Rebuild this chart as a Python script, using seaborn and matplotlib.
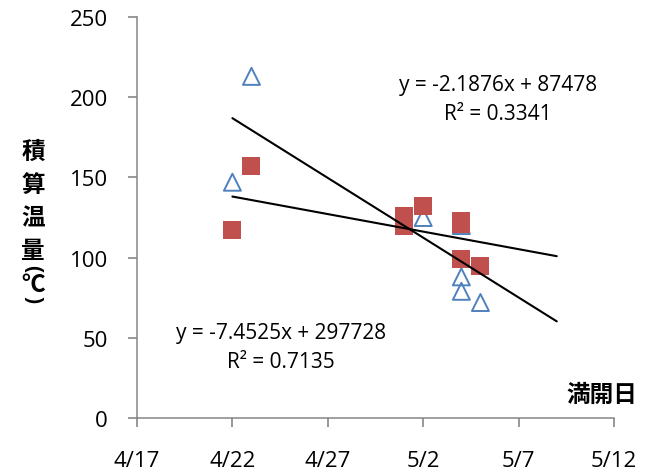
import matplotlib
matplotlib.use("Agg")
import matplotlib.pyplot as plt
import matplotlib.dates as mdates
from matplotlib.ticker import FuncFormatter
import pandas as pd
import seaborn as sns

# Full-bloom dates and accumulated temperature, two groups
square_dates = ["2009-04-22", "2009-04-23", "2009-05-01", "2009-05-01", "2009-05-02",
                "2009-05-04", "2009-05-04", "2009-05-04", "2009-05-05"]
square_temps = [117, 157, 126, 120, 132, 123, 121, 99, 95]

triangle_dates = ["2009-04-22", "2009-04-23", "2009-05-02", "2009-05-04",
                  "2009-05-04", "2009-05-04", "2009-05-05"]
triangle_temps = [147, 213, 125, 120, 88, 79, 72]

# Linear trends: slope, intercept (x = spreadsheet serial date), R²
square_slope, square_intercept, square_r2 = -2.1876, 87478, 0.3341
triangle_slope, triangle_intercept, triangle_r2 = -7.4525, 297728, 0.7135
trend_dates = ["2009-04-22", "2009-05-09"]

x_ticks = ["2009-04-17", "2009-04-22", "2009-04-27", "2009-05-02", "2009-05-07", "2009-05-12"]
y_ticks = [0, 50, 100, 150, 200, 250]

y_label_chars = ["積", "算", "温", "量", "(", "℃", ")"]
x_label = "満開日"

RED = "#C0504D"
BLUE = "#4F81BD"
AXIS = "#868686"
CJK = ["Noto Sans CJK JP", "DejaVu Sans"]

sns.set_style("white")
plt.rcParams["font.family"] = ["Open Sans", "Noto Sans CJK JP", "DejaVu Sans"]
plt.rcParams.update({
    "xtick.bottom": True, "ytick.left": True,
    "xtick.direction": "out", "ytick.direction": "out",
    "xtick.major.size": 6.5, "ytick.major.size": 6.5,
    "xtick.major.width": 1.2, "ytick.major.width": 1.2,
    "xtick.color": AXIS, "ytick.color": AXIS,
    "xtick.labelcolor": "black", "ytick.labelcolor": "black",
})

W, H = 647, 477
fig = plt.figure(figsize=(W / 100, H / 100), dpi=100)
ax = fig.add_axes([137 / W, 1 - 419 / H, (614 - 137) / W, (419 - 18) / H])

sq = pd.DataFrame({"date": pd.to_datetime(square_dates), "temp": square_temps})
tr = pd.DataFrame({"date": pd.to_datetime(triangle_dates), "temp": triangle_temps})

sns.scatterplot(data=tr, x="date", y="temp", ax=ax, marker="^", s=150,
                facecolors="none", edgecolors=BLUE, linewidth=1.4, zorder=2)
sns.scatterplot(data=sq, x="date", y="temp", ax=ax, marker="s", s=185,
                color=RED, edgecolors=RED, linewidth=0, zorder=3)


def serial(d):
    return (pd.Timestamp(d) - pd.Timestamp("1899-12-30")).days


tdates = pd.to_datetime(trend_dates)
for slope, intercept in [(square_slope, square_intercept), (triangle_slope, triangle_intercept)]:
    yv = [slope * serial(d) + intercept for d in tdates]
    sns.lineplot(x=tdates, y=yv, ax=ax, color="black", linewidth=1.5, zorder=4)

xt = pd.to_datetime(x_ticks)
ax.set_xlim(xt[0], xt[-1])
ax.set_xticks(xt)
ax.xaxis.set_major_formatter(FuncFormatter(
    lambda v, p: f"{mdates.num2date(v).month}/{mdates.num2date(v).day}"))
ax.set_ylim(y_ticks[0], y_ticks[-1])
ax.set_yticks(y_ticks)
ax.set_xlabel("")
ax.set_ylabel("")

for s in ["top", "right"]:
    ax.spines[s].set_visible(False)
for s in ["left", "bottom"]:
    ax.spines[s].set_color(AXIS)
    ax.spines[s].set_linewidth(1.1)

ax.tick_params(axis="both", which="major", direction="out", length=6.5, width=1.2,
               color=AXIS, labelsize=16, labelcolor="black", bottom=True, left=True)
ax.tick_params(axis="y", pad=14.5)
ax.tick_params(axis="x", pad=16.5)

# Trend equations
eq_kw = dict(transform=fig.transFigure, ha="center", va="center", fontsize=15, color="black")
ax.text(498 / W, 1 - 85 / H, f"y = {square_slope}x + {square_intercept}", **eq_kw)
ax.text(498 / W, 1 - 115 / H, f"R² = {square_r2}", **eq_kw)
ax.text(281 / W, 1 - 334 / H, f"y = {triangle_slope}x + {triangle_intercept}", **eq_kw)
ax.text(281 / W, 1 - 362 / H, f"R² = {triangle_r2}", **eq_kw)

# Vertical y-axis title (parentheses turned for vertical writing)
char_y = [151.5, 185, 218.5, 250.5, 269, 285, 300]
char_rot = [0, 0, 0, 0, -90, 0, -90]
for ch, yp, rot in zip(y_label_chars, char_y, char_rot):
    fam = ["Open Sans", "DejaVu Sans"] if rot else CJK
    fig.text(33 / W, 1 - yp / H, ch, ha="center", va="center",
             fontsize=15 if rot else 17, fontweight="bold", family=fam,
             rotation=rot, color="black")

fig.text(602 / W, 1 - 395 / H, x_label, ha="center", va="center", fontsize=17,
         fontweight="bold", family=CJK, color="black")

fig.savefig("out.png", dpi=100)
